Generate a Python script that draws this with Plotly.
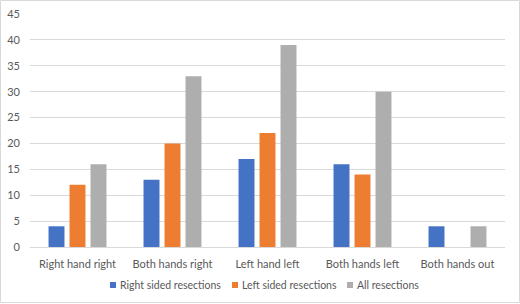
import plotly.graph_objects as go

categories = ["Right hand right", "Both hands right", "Left hand left", "Both hands left", "Both hands out"]
right_sided = [4, 13, 17, 16, 4]
left_sided = [12, 20, 22, 14, 0]
all_resections = [16, 33, 39, 30, 4]
y_ticks = [0, 5, 10, 15, 20, 25, 30, 35, 40, 45]

series = [
    ("Right sided resections", right_sided, "#4472C4"),
    ("Left sided resections", left_sided, "#ED7D31"),
    ("All resections", all_resections, "#AEAEAE"),
]

W, H = 520, 304
ml, mr, mt, mb = 30, 15, 14, 57
pw, ph = W - ml - mr, H - mt - mb
TXT = "#595959"
FONT = "Lato"
FS = 10


def px(x):
    return (x - ml) / pw


def py(y):
    return (H - mb - y) / ph


fig = go.Figure()
for name, vals, col in series:
    fig.add_trace(go.Bar(x=categories, y=vals, name=name, marker_color=col,
                         marker_line_width=0, showlegend=False, hoverinfo="skip"))

# manual legend (small squares + text)
legend_pos = [110, 232, 347]
shapes = []
annotations = []
for (name, vals, col), lx in zip(series, legend_pos):
    shapes.append(dict(type="rect", xref="paper", yref="paper",
                       x0=px(lx), x1=px(lx + 6), y0=py(288), y1=py(282),
                       fillcolor=col, line=dict(width=0)))
    annotations.append(dict(text=name, xref="paper", yref="paper",
                            x=px(lx + 8), y=py(285), xanchor="left", yanchor="middle",
                            showarrow=False, font=dict(family=FONT, size=10.5, color=TXT)))

shapes.append(dict(type="rect", xref="paper", yref="paper",
                   x0=px(0.5), x1=px(W - 0.5), y0=py(H - 1.5), y1=py(0.5),
                   line=dict(color="#d9d9d9", width=1), layer="below"))

fig.update_layout(
    width=W, height=H,
    margin=dict(l=ml, r=mr, t=mt, b=mb),
    paper_bgcolor="white", plot_bgcolor="white",
    barmode="group", bargap=0.337, bargroupgap=0.24,
    font=dict(family=FONT, size=FS, color=TXT),
    showlegend=False,
    hovermode=False,
    xaxis=dict(showgrid=False, showline=True, linecolor="#d9d9d9",
               ticks="", automargin=False, ticklabelstandoff=7,
               tickfont=dict(family=FONT, size=FS + 1, color=TXT)),
    yaxis=dict(range=[0, 45], tickvals=y_ticks, showgrid=True,
               gridcolor="#d9d9d9", gridwidth=1, zeroline=False,
               ticks="", showline=False, automargin=False, ticklabelstandoff=9,
               tickfont=dict(family=FONT, size=FS + 1, color=TXT)),
    shapes=shapes,
    annotations=annotations,
)

fig.write_html("out.html", config={"displayModeBar": False},
               post_script="document.body.style.margin='0';")
